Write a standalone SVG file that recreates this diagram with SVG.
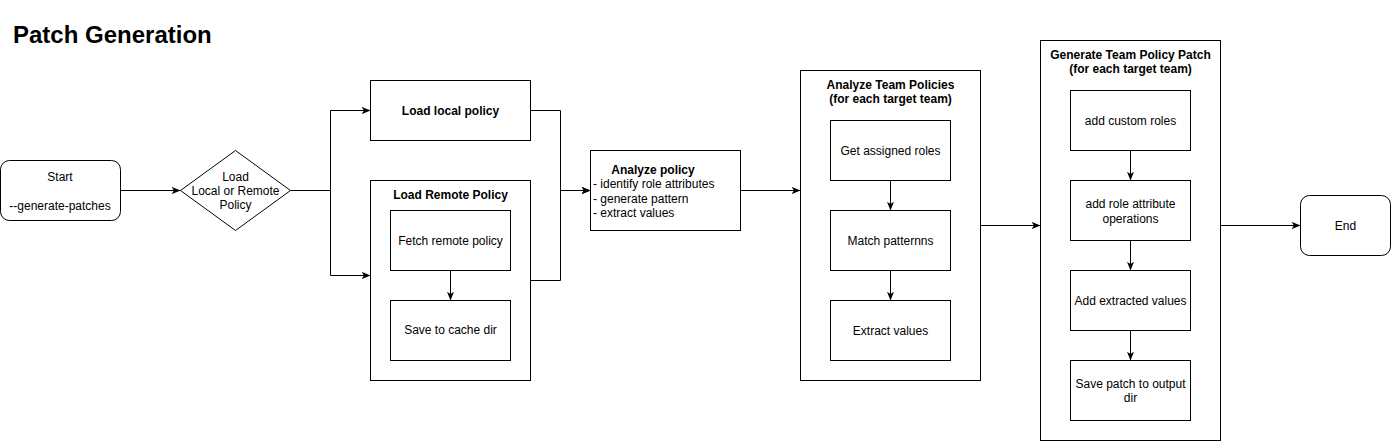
<svg xmlns="http://www.w3.org/2000/svg" width="1392" height="441" viewBox="0 0 1392 441">
<style>
.box{fill:#fff;stroke:#000;stroke-width:1}
.t{font-family:"Liberation Sans",Arial,sans-serif;font-size:12px;fill:#000;text-anchor:middle}
.b{font-weight:bold}
.l{text-anchor:start}
.c{fill:none;stroke:#000;stroke-width:1;marker-end:url(#arr)}
</style>
<defs>
<marker id="arr" viewBox="0 0 10 8" refX="10" refY="4" markerWidth="9" markerHeight="7" markerUnits="userSpaceOnUse" orient="auto">
<path d="M0,0 L10,4 L0,8 L2.5,4 Z" fill="#000"/>
</marker>
</defs>
<rect width="1392" height="441" fill="#fff"/>
<text x="13" y="43" style="font-family:'Liberation Sans',Arial,sans-serif;font-size:24px;font-weight:bold">Patch Generation</text>

<g id="start">
<rect class="box" x="0.5" y="160.5" width="120" height="60" rx="9"/>
<text class="t" x="60" y="181">Start</text>
<text class="t" x="60" y="210">--generate-patches</text>
</g>
<g id="decision">
<path class="box" d="M235.5,150.5 L290.5,190.5 L235.5,230.5 L180.5,190.5 Z"/>
<text class="t" x="235.5" y="181">Load</text>
<text class="t" x="235.5" y="195">Local or Remote</text>
<text class="t" x="235.5" y="209">Policy</text>
</g>
<g id="load-local">
<rect class="box" x="370.5" y="80.5" width="160" height="60"/>
<text class="t b" x="450.5" y="115">Load local policy</text>
</g>
<g id="load-remote">
<rect class="box" x="370.5" y="180.5" width="160" height="200"/>
<text class="t b" x="450.5" y="199">Load Remote Policy</text>
</g>
<g id="fetch-remote">
<rect class="box" x="390.5" y="210.5" width="120" height="60"/>
<text class="t" x="450.5" y="245">Fetch remote policy</text>
</g>
<g id="save-cache">
<rect class="box" x="390.5" y="300.5" width="120" height="60"/>
<text class="t" x="450.5" y="334">Save to cache dir</text>
</g>
<g id="analyze-policy">
<rect class="box" x="590.5" y="150.5" width="150" height="80"/>
<text class="t b" x="653" y="174">Analyze policy</text>
<text class="t l" x="593" y="188">- identify role attributes</text>
<text class="t l" x="593" y="203">- generate pattern</text>
<text class="t l" x="593" y="217">- extract values</text>
</g>
<g id="analyze-team">
<rect class="box" x="800.5" y="70.5" width="180" height="310"/>
<text class="t b" x="890.5" y="89">Analyze Team Policies</text>
<text class="t b" x="890.5" y="103">(for each target team)</text>
</g>
<g id="get-roles">
<rect class="box" x="830.5" y="120.5" width="120" height="60"/>
<text class="t" x="890.5" y="155">Get assigned roles</text>
</g>
<g id="match-patterns">
<rect class="box" x="830.5" y="210.5" width="120" height="60"/>
<text class="t" x="890.5" y="245">Match patternns</text>
</g>
<g id="extract-values">
<rect class="box" x="830.5" y="300.5" width="120" height="60"/>
<text class="t" x="890.5" y="335">Extract values</text>
</g>
<g id="generate-patch">
<rect class="box" x="1040.5" y="40.5" width="180" height="400"/>
<text class="t b" x="1130.5" y="59">Generate Team Policy Patch</text>
<text class="t b" x="1130.5" y="73">(for each target team)</text>
</g>
<g id="custom-roles">
<rect class="box" x="1070.5" y="90.5" width="120" height="60"/>
<text class="t" x="1130.5" y="125">add custom roles</text>
</g>
<g id="role-attr-ops">
<rect class="box" x="1070.5" y="180.5" width="120" height="60"/>
<text class="t" x="1130.5" y="208">add role attribute</text>
<text class="t" x="1130.5" y="223">operations</text>
</g>
<g id="add-extracted">
<rect class="box" x="1070.5" y="270.5" width="120" height="60"/>
<text class="t" x="1130.5" y="305">Add extracted values</text>
</g>
<g id="save-patch">
<rect class="box" x="1070.5" y="360.5" width="120" height="60"/>
<text class="t" x="1130.5" y="388">Save patch to output</text>
<text class="t" x="1130.5" y="402">dir</text>
</g>
<g id="end">
<rect class="box" x="1300.5" y="195.5" width="90" height="60" rx="9"/>
<text class="t" x="1345.5" y="230">End</text>
</g>

<g id="connectors">
<path class="c" d="M120.5,190.5 H180.5"/>
<path class="c" d="M290.5,190.5 H330.5 V110.5 H370.5"/>
<path class="c" d="M290.5,190.5 H330.5 V275.5 H370.5"/>
<path class="c" d="M450.5,270.5 V300.5"/>
<path class="c" d="M530.5,110.5 H560.5 V190.5 H590.5"/>
<path class="c" d="M530.5,280.5 H560.5 V190.5 H590.5"/>
<path class="c" d="M740.5,190.5 H800.5"/>
<path class="c" d="M890.5,180.5 V210.5"/>
<path class="c" d="M890.5,270.5 V300.5"/>
<path class="c" d="M980.5,225.5 H1040.5"/>
<path class="c" d="M1130.5,150.5 V180.5"/>
<path class="c" d="M1130.5,240.5 V270.5"/>
<path class="c" d="M1130.5,330.5 V360.5"/>
<path class="c" d="M1220.5,225.5 H1300.5"/>
</g>
</svg>
